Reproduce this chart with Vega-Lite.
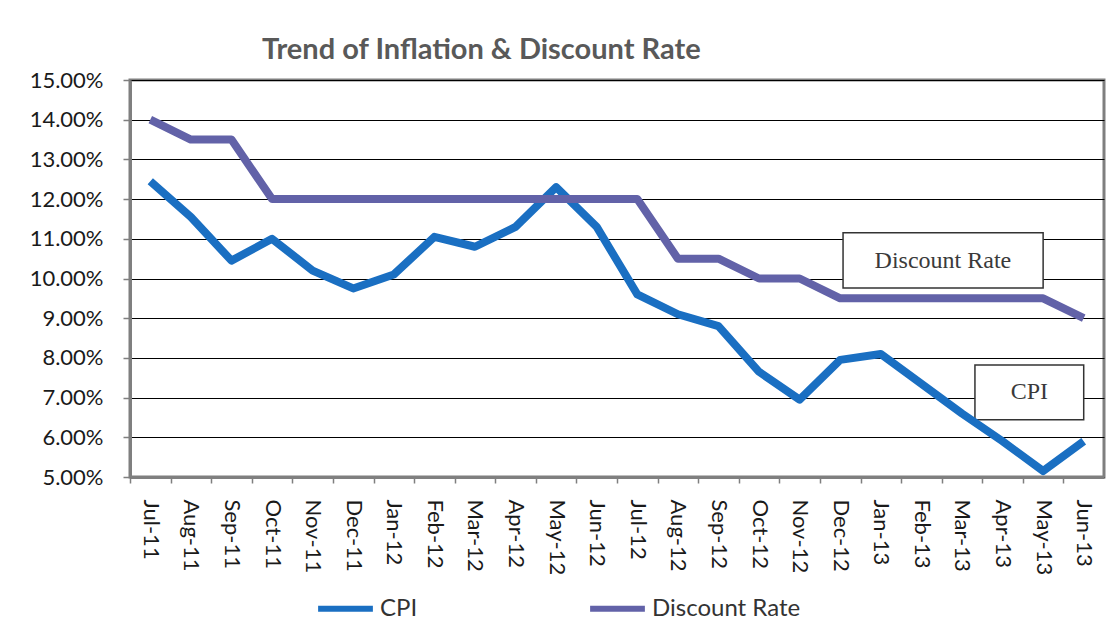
{
  "$schema": "https://vega.github.io/schema/vega-lite/v6.json",
  "width": 974,
  "height": 397,
  "autosize": {"type": "none"},
  "padding": {"left": 130, "top": 80, "right": 16, "bottom": 160},
  "background": "white",
  "title": {"text": "Trend of Inflation & Discount Rate", "anchor": "start", "frame": "group", "dx": 132, "offset": 4, "fontSize": 29, "font": "Lato", "fontWeight": "bold", "color": "#595959"},
  "config": {
    "view": {"stroke": "#7f7f7f", "strokeWidth": 3},
    "axisX": {
      "labelExpr": "['Jul-11','Aug-11','Sep-11','Oct-11','Nov-11','Dec-11','Jan-12','Feb-12','Mar-12','Apr-12','May-12','Jun-12','Jul-12','Aug-12','Sep-12','Oct-12','Nov-12','Dec-12','Jan-13','Feb-13','Mar-13','Apr-13','May-13','Jun-13'][datum.value]",
      "tickOffset": -20.29,
      "labelOffset": 20.29,
      "grid": false,
      "labelAngle": 90,
      "labelAlign": "left",
      "labelBaseline": "middle",
      "labelFont": "Lato",
      "labelFontSize": 22,
      "labelColor": "#1a1a1a",
      "labelPadding": 16,
      "labelOverlap": false,
      "labelFlush": false,
      "tickSize": 6,
      "tickColor": "#7f7f7f",
      "tickWidth": 1.5,
      "domainColor": "#7f7f7f",
      "domainWidth": 3
    },
    "axisY": {
      "labelExpr": "format(datum.value, '.2f') + '%'",
      "grid": true,
      "gridColor": "#000000",
      "gridWidth": 1,
      "labelFont": "Lato",
      "labelFontSize": 22,
      "labelColor": "#1a1a1a",
      "labelPadding": 20,
      "labelFlush": false,
      "labelOverlap": false,
      "tickSize": 7,
      "tickColor": "#7f7f7f",
      "tickWidth": 1.5,
      "domainColor": "#7f7f7f",
      "domainWidth": 3
    }
  },
  "datasets": {
    "rates": [
      {"month": "Jul-11", "i": 0, "series": "CPI", "value": 12.45},
      {"month": "Aug-11", "i": 1, "series": "CPI", "value": 11.55},
      {"month": "Sep-11", "i": 2, "series": "CPI", "value": 10.45},
      {"month": "Oct-11", "i": 3, "series": "CPI", "value": 11.0},
      {"month": "Nov-11", "i": 4, "series": "CPI", "value": 10.2},
      {"month": "Dec-11", "i": 5, "series": "CPI", "value": 9.75},
      {"month": "Jan-12", "i": 6, "series": "CPI", "value": 10.1},
      {"month": "Feb-12", "i": 7, "series": "CPI", "value": 11.05},
      {"month": "Mar-12", "i": 8, "series": "CPI", "value": 10.8},
      {"month": "Apr-12", "i": 9, "series": "CPI", "value": 11.3},
      {"month": "May-12", "i": 10, "series": "CPI", "value": 12.3},
      {"month": "Jun-12", "i": 11, "series": "CPI", "value": 11.3},
      {"month": "Jul-12", "i": 12, "series": "CPI", "value": 9.6},
      {"month": "Aug-12", "i": 13, "series": "CPI", "value": 9.1},
      {"month": "Sep-12", "i": 14, "series": "CPI", "value": 8.8},
      {"month": "Oct-12", "i": 15, "series": "CPI", "value": 7.65},
      {"month": "Nov-12", "i": 16, "series": "CPI", "value": 6.95},
      {"month": "Dec-12", "i": 17, "series": "CPI", "value": 7.95},
      {"month": "Jan-13", "i": 18, "series": "CPI", "value": 8.1},
      {"month": "Feb-13", "i": 19, "series": "CPI", "value": 7.35},
      {"month": "Mar-13", "i": 20, "series": "CPI", "value": 6.6},
      {"month": "Apr-13", "i": 21, "series": "CPI", "value": 5.9},
      {"month": "May-13", "i": 22, "series": "CPI", "value": 5.15},
      {"month": "Jun-13", "i": 23, "series": "CPI", "value": 5.9},
      {"month": "Jul-11", "i": 0, "series": "Discount Rate", "value": 14.0},
      {"month": "Aug-11", "i": 1, "series": "Discount Rate", "value": 13.5},
      {"month": "Sep-11", "i": 2, "series": "Discount Rate", "value": 13.5},
      {"month": "Oct-11", "i": 3, "series": "Discount Rate", "value": 12.0},
      {"month": "Nov-11", "i": 4, "series": "Discount Rate", "value": 12.0},
      {"month": "Dec-11", "i": 5, "series": "Discount Rate", "value": 12.0},
      {"month": "Jan-12", "i": 6, "series": "Discount Rate", "value": 12.0},
      {"month": "Feb-12", "i": 7, "series": "Discount Rate", "value": 12.0},
      {"month": "Mar-12", "i": 8, "series": "Discount Rate", "value": 12.0},
      {"month": "Apr-12", "i": 9, "series": "Discount Rate", "value": 12.0},
      {"month": "May-12", "i": 10, "series": "Discount Rate", "value": 12.0},
      {"month": "Jun-12", "i": 11, "series": "Discount Rate", "value": 12.0},
      {"month": "Jul-12", "i": 12, "series": "Discount Rate", "value": 12.0},
      {"month": "Aug-12", "i": 13, "series": "Discount Rate", "value": 10.5},
      {"month": "Sep-12", "i": 14, "series": "Discount Rate", "value": 10.5},
      {"month": "Oct-12", "i": 15, "series": "Discount Rate", "value": 10.0},
      {"month": "Nov-12", "i": 16, "series": "Discount Rate", "value": 10.0},
      {"month": "Dec-12", "i": 17, "series": "Discount Rate", "value": 9.5},
      {"month": "Jan-13", "i": 18, "series": "Discount Rate", "value": 9.5},
      {"month": "Feb-13", "i": 19, "series": "Discount Rate", "value": 9.5},
      {"month": "Mar-13", "i": 20, "series": "Discount Rate", "value": 9.5},
      {"month": "Apr-13", "i": 21, "series": "Discount Rate", "value": 9.5},
      {"month": "May-13", "i": 22, "series": "Discount Rate", "value": 9.5},
      {"month": "Jun-13", "i": 23, "series": "Discount Rate", "value": 9.0}
    ],
    "notes": [
      {"label": "Discount Rate", "x1": 17.07, "x2": 22.0, "y1": 11.15, "y2": 9.76, "tx": 19.53, "ty": 10.44},
      {"label": "CPI", "x1": 20.32, "x2": 23.0, "y1": 7.82, "y2": 6.44, "tx": 21.66, "ty": 7.14}
    ]
  },
  "layer": [
    {
      "data": {"name": "notes"},
      "mark": {"type": "rect", "fill": "white", "stroke": "#333333", "strokeWidth": 1.5},
      "encoding": {
        "x": {
          "field": "x1", "type": "quantitative",
          "scale": {"domain": [-0.5, 23.5], "nice": false, "zero": false},
          "axis": {"title": null, "values": [0,1,2,3,4,5,6,7,8,9,10,11,12,13,14,15,16,17,18,19,20,21,22,23]}
        },
        "x2": {"field": "x2"},
        "y": {
          "field": "y1", "type": "quantitative",
          "scale": {"domain": [5, 15], "nice": false, "zero": false},
          "axis": {"title": null, "values": [5,6,7,8,9,10,11,12,13,14,15]}
        },
        "y2": {"field": "y2"}
      }
    },
    {
      "data": {"name": "notes"},
      "mark": {"type": "text", "font": "Liberation Serif", "fontSize": 24, "color": "#3a3a3a", "align": "center", "baseline": "middle"},
      "encoding": {
        "x": {"field": "tx", "type": "quantitative", "axis": {"title": null, "values": [0,1,2,3,4,5,6,7,8,9,10,11,12,13,14,15,16,17,18,19,20,21,22,23]}},
        "y": {"field": "ty", "type": "quantitative", "axis": {"title": null, "values": [5,6,7,8,9,10,11,12,13,14,15]}},
        "text": {"field": "label"}
      }
    },
    {
      "data": {"name": "rates"},
      "mark": {"type": "line", "strokeWidth": 8, "strokeJoin": "round"},
      "encoding": {
        "x": {"field": "i", "type": "quantitative", "axis": {"title": null, "values": [0,1,2,3,4,5,6,7,8,9,10,11,12,13,14,15,16,17,18,19,20,21,22,23]}},
        "y": {"field": "value", "type": "quantitative", "axis": {"title": null, "values": [5,6,7,8,9,10,11,12,13,14,15]}},
        "color": {
          "field": "series", "type": "nominal",
          "scale": {"domain": ["CPI", "Discount Rate"], "range": ["#1a6fc2", "#6262a8"]},
          "legend": {
            "title": null,
            "orient": "none",
            "legendX": 185,
            "legendY": 498,
            "direction": "horizontal",
            "columnPadding": 160,
            "symbolType": "stroke",
            "symbolSize": 3000,
            "symbolStrokeWidth": 6,
            "labelFont": "Lato",
            "labelFontSize": 24,
            "labelColor": "#333333",
            "labelOffset": 4,
            "labelLimit": 300
          }
        }
      }
    }
  ]
}
